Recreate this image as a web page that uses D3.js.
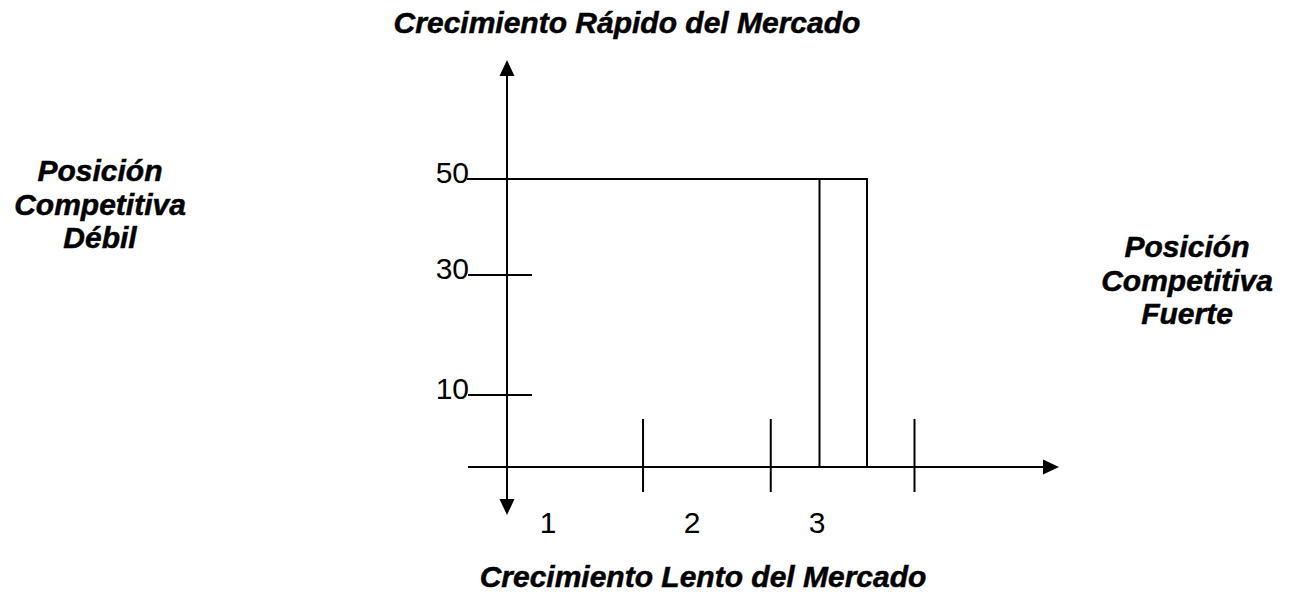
<!DOCTYPE html>
<html>
<head>
<meta charset="utf-8">
<script src="https://cdn.jsdelivr.net/npm/d3@7"></script>
<style>
  body { margin: 0; background: #fff; }
  text { font-family: "Liberation Sans", Arial, sans-serif; fill: #000; }
  .big { font-size: 30px; font-weight: bold; font-style: italic; stroke: #000; stroke-width: 0.5px; }
  .num { font-size: 30px; }
</style>
</head>
<body>
<svg id="chart" width="1296" height="603"></svg>
<script>
// category labels along the bottom axis
const categories = ["1", "2", "3"];
// value ticks on the vertical axis
const yTicks = [10, 30, 50];
// separator marks on the bottom axis (category units)
const xSeparators = [1.66, 2.63, 3.78];
// the single bar: span in category units and its value
const barSpan = [3.02, 3.40];
const barValue = 50;

const topTitle = "Crecimiento Rápido del Mercado";
const bottomTitle = "Crecimiento Lento del Mercado";
const leftLabel = ["Posición", "Competitiva", "Débil"];
const rightLabel = ["Posición", "Competitiva", "Fuerte"];

const width = 1296, height = 603;
const svg = d3.select("#chart");

// the drawing is hand made, so scales are piecewise
const xScale = d3.scaleLinear()
    .domain([0, 1, 2, 3])
    .range([507, 548, 692, 817]);

const yScale = d3.scaleLinear()
    .domain([0, 10, 30, 50])
    .range([467, 395, 275, 179]);

const x0 = xScale(0), y0 = yScale(0);
const sw = 2;

// vertical axis with arrows at both ends
svg.append("line")
    .attr("x1", x0).attr("x2", x0)
    .attr("y1", 70).attr("y2", 505)
    .attr("stroke", "#000").attr("stroke-width", sw);

svg.append("path")
    .attr("d", `M${x0},60 L${x0 - 7.5},76 L${x0 + 7.5},76 Z`)
    .attr("fill", "#000");
svg.append("path")
    .attr("d", `M${x0},515 L${x0 - 7.5},499 L${x0 + 7.5},499 Z`)
    .attr("fill", "#000");

// horizontal axis with arrow on the right
svg.append("line")
    .attr("x1", 468).attr("x2", 1048)
    .attr("y1", y0).attr("y2", y0)
    .attr("stroke", "#000").attr("stroke-width", sw);
svg.append("path")
    .attr("d", `M1059,${y0} L1043,${y0 - 7.5} L1043,${y0 + 7.5} Z`)
    .attr("fill", "#000");

// y ticks
svg.selectAll(".ytick")
    .data(yTicks)
    .join("line")
    .attr("class", "ytick")
    .attr("x1", 468).attr("x2", 532)
    .attr("y1", d => yScale(d)).attr("y2", d => yScale(d))
    .attr("stroke", "#000").attr("stroke-width", sw);

svg.selectAll(".ylabel")
    .data(yTicks)
    .join("text")
    .attr("class", "ylabel num")
    .attr("text-anchor", "end")
    .attr("x", 469)
    .attr("y", d => yScale(d) + 4)
    .text(d => d);

// bottom separators
svg.selectAll(".xsep")
    .data(xSeparators)
    .join("line")
    .attr("class", "xsep")
    .attr("x1", d => xScale(d)).attr("x2", d => xScale(d))
    .attr("y1", 419).attr("y2", 492)
    .attr("stroke", "#000").attr("stroke-width", sw);

svg.selectAll(".xlabel")
    .data(categories)
    .join("text")
    .attr("class", "xlabel num")
    .attr("text-anchor", "middle")
    .attr("x", (d, i) => xScale(i + 1))
    .attr("y", 533)
    .text(d => d);

// reference line at the bar value, from the axis to the bar
svg.append("line")
    .attr("x1", 467).attr("x2", xScale(barSpan[0]))
    .attr("y1", yScale(barValue)).attr("y2", yScale(barValue))
    .attr("stroke", "#000").attr("stroke-width", sw);

svg.append("rect")
    .attr("x", xScale(barSpan[0]))
    .attr("y", yScale(barValue))
    .attr("width", xScale(barSpan[1]) - xScale(barSpan[0]))
    .attr("height", y0 - yScale(barValue))
    .attr("fill", "none")
    .attr("stroke", "#000").attr("stroke-width", sw);

// titles
svg.append("text").attr("class", "big")
    .attr("text-anchor", "middle")
    .attr("x", 627).attr("y", 33)
    .text(topTitle);

svg.append("text").attr("class", "big")
    .attr("text-anchor", "middle")
    .attr("x", 703).attr("y", 587)
    .text(bottomTitle);

svg.append("text").attr("class", "big")
    .attr("text-anchor", "middle")
    .selectAll("tspan")
    .data(leftLabel)
    .join("tspan")
    .attr("x", 100)
    .attr("y", (d, i) => 181 + i * 33.5)
    .text(d => d);

svg.append("text").attr("class", "big")
    .attr("text-anchor", "middle")
    .selectAll("tspan")
    .data(rightLabel)
    .join("tspan")
    .attr("x", 1187)
    .attr("y", (d, i) => 257 + i * 33.5)
    .text(d => d);
</script>
</body>
</html>
